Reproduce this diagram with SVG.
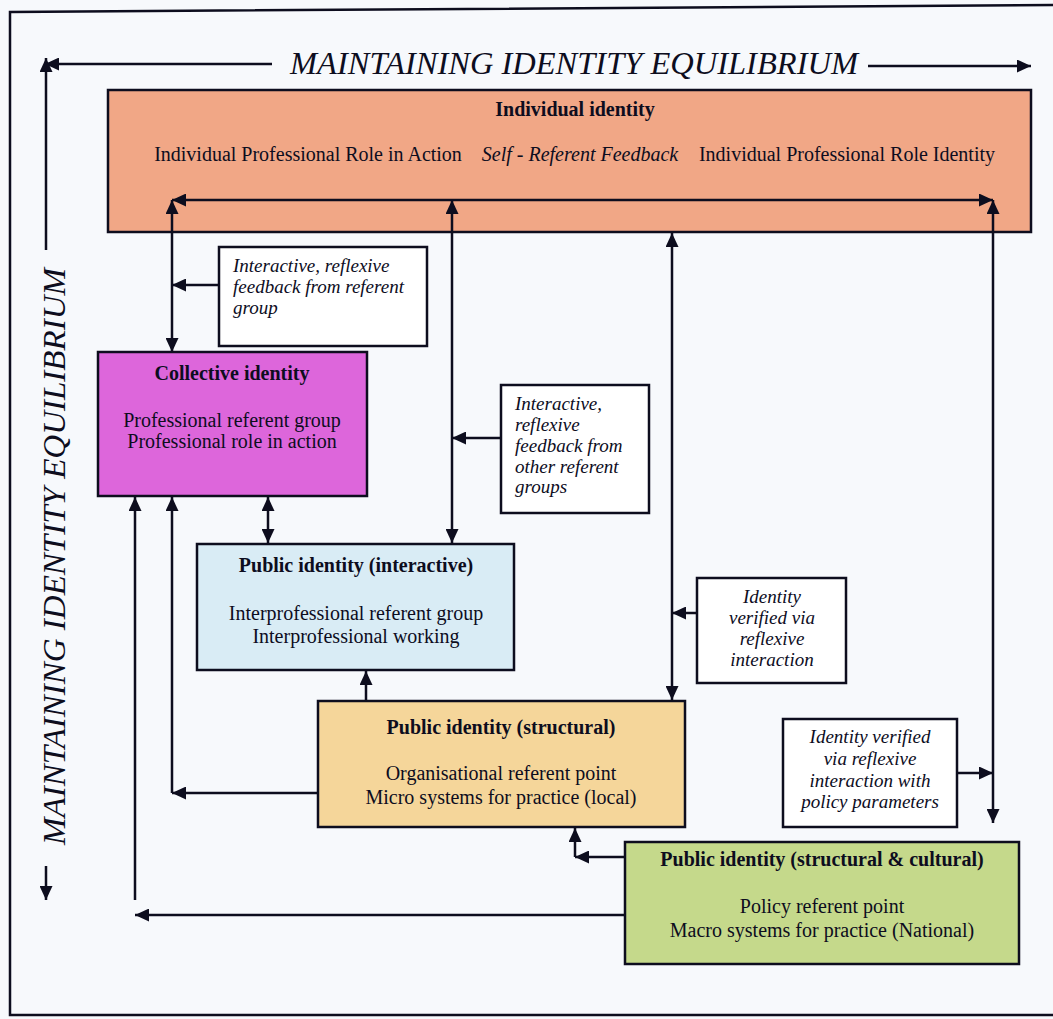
<svg xmlns="http://www.w3.org/2000/svg" width="1053" height="1019" viewBox="0 0 1053 1019">
<defs>
<marker id="ah" viewBox="0 0 14 13" refX="14" refY="6.5" markerWidth="14" markerHeight="13" markerUnits="userSpaceOnUse" orient="auto-start-reverse">
<path d="M0,0 L14,6.5 L0,13 z" fill="#0d0d1e"/>
</marker>
<style>
text{font-family:"Liberation Serif","Times New Roman",serif;fill:#0d0d1e}
.t{font-size:20px;font-weight:bold;text-anchor:middle}
.b{font-size:20px;text-anchor:middle}
.i{font-size:19px;font-style:italic}
.ic{font-size:19px;font-style:italic;text-anchor:middle}
.big{font-size:31px;font-style:italic}
.box{stroke:#0d0d1e;stroke-width:2.5}
.note{fill:#ffffff;stroke:#0d0d1e;stroke-width:2.5}
.c{fill:none;stroke:#0d0d1e;stroke-width:2.5}
.a1{marker-end:url(#ah)}
.a2{marker-start:url(#ah);marker-end:url(#ah)}
</style>
</defs>
<rect x="0" y="0" width="1053" height="1019" fill="#f7f9fc"/>
<path d="M1053,5 L10,12 L10,1015 L1053,1015" fill="none" stroke="#0d0d1e" stroke-width="2.5"/>

<g id="titles">
<text class="big" x="290" y="74" textLength="568" lengthAdjust="spacingAndGlyphs">MAINTAINING IDENTITY EQUILIBRIUM</text>
<text class="big" transform="translate(65,845) rotate(-90)" x="0" y="0" textLength="577" lengthAdjust="spacingAndGlyphs">MAINTAINING IDENTITY EQUILIBRIUM</text>
</g>

<g id="individual">
<rect class="box" x="108" y="90" width="923" height="142" fill="#f1a786"/>
<text class="t" x="575" y="116">Individual identity</text>
<text class="b" x="308" y="161">Individual Professional Role in Action</text>
<text class="b" x="580" y="161" font-style="italic" font-size="19">Self - Referent Feedback</text>
<text class="b" x="847" y="161">Individual Professional Role Identity</text>
</g>

<g id="feedback1">
<rect class="note" x="219" y="247" width="208" height="99"/>
<text class="i" x="233" y="272">Interactive, reflexive</text>
<text class="i" x="233" y="293">feedback from referent</text>
<text class="i" x="233" y="314">group</text>
</g>

<g id="collective">
<rect class="box" x="98" y="352" width="269" height="144" fill="#dd66db"/>
<text class="t" x="232" y="380">Collective identity</text>
<text class="b" x="232" y="427">Professional referent group</text>
<text class="b" x="232" y="448">Professional role in action</text>
</g>

<g id="feedback2">
<rect class="note" x="501" y="385" width="148" height="128"/>
<text class="i" x="515" y="410">Interactive,</text>
<text class="i" x="515" y="431">reflexive</text>
<text class="i" x="515" y="452">feedback from</text>
<text class="i" x="515" y="473">other referent</text>
<text class="i" x="515" y="493">groups</text>
</g>

<g id="public-interactive">
<rect class="box" x="197" y="544" width="317" height="126" fill="#d9ecf5"/>
<text class="t" x="356" y="572">Public identity (interactive)</text>
<text class="b" x="356" y="620">Interprofessional referent group</text>
<text class="b" x="356" y="643">Interprofessional working</text>
</g>

<g id="verified1">
<rect class="note" x="697" y="578" width="149" height="105"/>
<text class="ic" x="772" y="603">Identity</text>
<text class="ic" x="772" y="624">verified via</text>
<text class="ic" x="772" y="645">reflexive</text>
<text class="ic" x="772" y="666">interaction</text>
</g>

<g id="public-structural">
<rect class="box" x="318" y="701" width="367" height="126" fill="#f5d69a"/>
<text class="t" x="501" y="734">Public identity (structural)</text>
<text class="b" x="501" y="780">Organisational referent point</text>
<text class="b" x="501" y="804">Micro systems for practice (local)</text>
</g>

<g id="verified2">
<rect class="note" x="783" y="719" width="174" height="108"/>
<text class="ic" x="870" y="743">Identity verified</text>
<text class="ic" x="870" y="765">via reflexive</text>
<text class="ic" x="870" y="787">interaction with</text>
<text class="ic" x="870" y="808">policy parameters</text>
</g>

<g id="public-cultural">
<rect class="box" x="625" y="842" width="394" height="122" fill="#c5d98b"/>
<text class="t" x="822" y="866">Public identity (structural &amp; cultural)</text>
<text class="b" x="822" y="913">Policy referent point</text>
<text class="b" x="822" y="937">Macro systems for practice (National)</text>
</g>

<g id="connectors">
<path class="c a1" d="M272,64 L45,64"/>
<path class="c a1" d="M868,66 L1031,66"/>
<path class="c a1" d="M46,250 L46,58"/>
<path class="c a1" d="M46,866 L46,900"/>
<path class="c a2" d="M172,200 L993,200"/>
<path class="c a2" d="M172,200 L172,352"/>
<path class="c a1" d="M219,285 L172,285"/>
<path class="c a2" d="M452,200 L452,543"/>
<path class="c a1" d="M501,438 L452,438"/>
<path class="c a2" d="M672,233 L672,700"/>
<path class="c a1" d="M697,613 L672,613"/>
<path class="c a2" d="M993,200 L993,823"/>
<path class="c a1" d="M957,773 L993,773"/>
<path class="c a2" d="M268,497 L268,543"/>
<path class="c a1" d="M366,701 L366,671"/>
<path class="c a1" d="M318,793 L172,793"/>
<path class="c a1" d="M172,793 L172,497"/>
<path class="c a1" d="M625,915 L135,915"/>
<path class="c a1" d="M135,900 L135,497"/>
<path class="c a1" d="M625,857 L575,857"/>
<path class="c a1" d="M575,857 L575,828"/>
</g>
</svg>
